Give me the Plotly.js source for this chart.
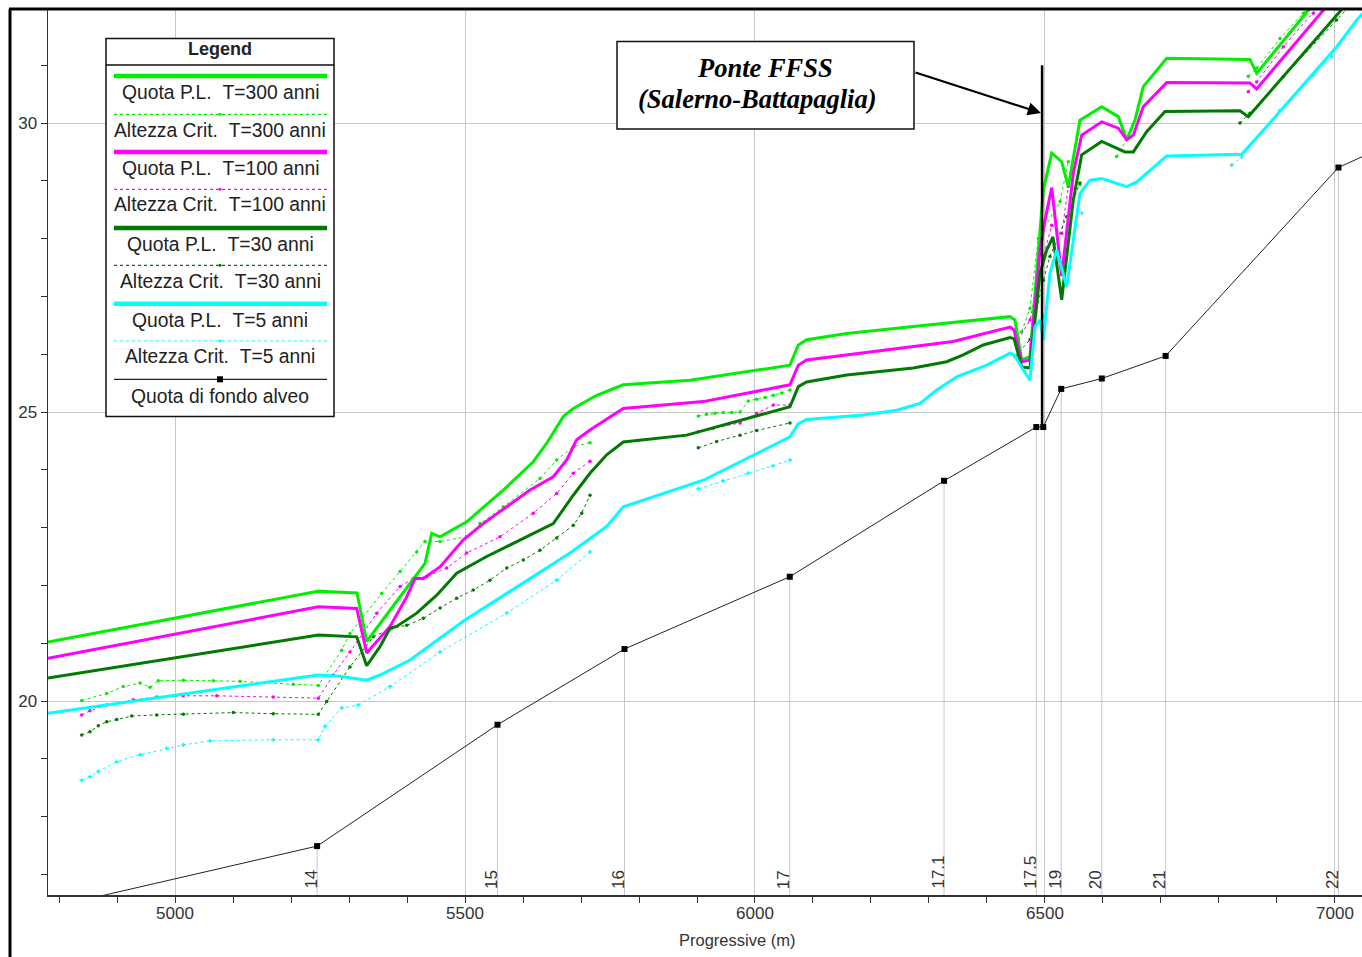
<!DOCTYPE html>
<html><head><meta charset="utf-8">
<script src="https://cdn.plot.ly/plotly-3.0.1.min.js"></script>
<style>html,body{margin:0;padding:0;background:#fff;overflow:hidden}#chart{width:1362px;height:957px;}</style>
</head><body><div id="chart"></div>
<script>
// ---------------- DATA ----------------
// Quota di fondo alveo (bed profile)
const bedX = [4700, 5245, 5556, 5775, 6060, 6326, 6485, 6497, 6528, 6598, 6708, 7006, 7100];
const bedY = [16.23, 17.49, 19.59, 20.90, 22.15, 23.81, 24.74, 24.74, 25.40, 25.58, 25.97, 29.23, 29.66];

// Sections
const sectionLabels = ['14', '15', '16', '17', '17.1', '17.5', '19', '20', '21', '22'];
const sectionX = [5245, 5556, 5775, 6060, 6326, 6485, 6528, 6598, 6708, 7006];
const sectionBed = [17.49, 19.59, 20.90, 22.15, 23.81, 24.74, 25.40, 25.58, 25.97, 29.23];

// Quota P.L. T=300 anni
const wsX300 = [4781, 5246.6, 5313.8, 5330.5, 5431.0, 5442.6, 5456.9, 5502.9, 5566.0, 5617.8, 5640.9, 5669.5, 5686.7, 5727.1, 5772.9, 5887.9, 6060.3, 6074.7, 6089.1, 6158.1, 6272.9, 6439.7, 6448.3, 6459.8, 6474.1, 6485.7, 6497.1, 6511.6, 6528.8, 6540.2, 6560.3, 6597.8, 6626.4, 6640.9, 6655.2, 6669.5, 6709.9, 6853.4, 6865.0, 6954.0, 7050];
const wsY300 = [21.02, 21.90, 21.87, 21.03, 22.38, 22.90, 22.84, 23.10, 23.65, 24.14, 24.46, 24.92, 25.06, 25.29, 25.47, 25.55, 25.81, 26.16, 26.25, 26.36, 26.48, 26.65, 26.59, 25.90, 25.96, 27.46, 28.84, 29.48, 29.33, 28.90, 30.05, 30.28, 30.11, 29.71, 30.05, 30.63, 31.12, 31.10, 30.86, 31.95, 33.12];

// Quota P.L. T=100 anni
const wsX100 = [4781, 5247.1, 5313.3, 5330.5, 5370.7, 5399.5, 5413.8, 5428.1, 5456.9, 5497.1, 5531.5, 5612.1, 5652.2, 5675.3, 5692.6, 5715.5, 5772.9, 5910.8, 6060.3, 6074.7, 6089.1, 6158.1, 6341.9, 6439.7, 6446.6, 6459.8, 6474.1, 6491.4, 6500.0, 6511.6, 6528.8, 6548.8, 6563.3, 6597.8, 6626.4, 6640.9, 6652.3, 6669.5, 6709.9, 6853.4, 6865.0, 6979.8, 7050];
const wsY100 = [20.74, 21.63, 21.60, 20.83, 21.29, 21.80, 22.12, 22.12, 22.32, 22.79, 23.07, 23.65, 23.88, 24.17, 24.52, 24.69, 25.06, 25.18, 25.47, 25.81, 25.90, 25.99, 26.22, 26.47, 26.42, 25.87, 25.90, 27.80, 28.32, 28.88, 27.35, 29.13, 29.79, 30.02, 29.91, 29.71, 29.79, 30.28, 30.70, 30.69, 30.59, 31.95, 32.80];

// Quota P.L. T=30 anni
const wsX30 = [4781, 5247.1, 5313.3, 5330.5, 5353.4, 5370.7, 5382.2, 5416.7, 5451.2, 5485.7, 5537.4, 5617.8, 5652.2, 5686.7, 5715.5, 5744.3, 5772.9, 5882.2, 6060.3, 6074.7, 6089.1, 6158.1, 6272.9, 6330.5, 6359.1, 6393.6, 6439.7, 6446.6, 6459.8, 6474.1, 6491.4, 6502.9, 6513.7, 6528.8, 6548.8, 6563.3, 6597.8, 6637.9, 6652.3, 6675.3, 6706.9, 6836.2, 6850.5, 7008.6, 7050];
const wsY30 = [20.40, 21.14, 21.11, 20.61, 20.94, 21.26, 21.29, 21.52, 21.83, 22.21, 22.50, 22.90, 23.07, 23.56, 23.94, 24.26, 24.48, 24.60, 25.09, 25.44, 25.52, 25.64, 25.76, 25.87, 25.99, 26.16, 26.29, 26.27, 25.78, 25.76, 27.40, 27.80, 28.03, 26.94, 28.67, 29.45, 29.68, 29.50, 29.50, 29.85, 30.20, 30.21, 30.11, 31.93, 32.42];

// Quota P.L. T=5 anni
const wsX5 = [4781, 5247.1, 5284.5, 5330.5, 5353.4, 5382.2, 5405.2, 5500.0, 5681.0, 5744.3, 5772.9, 5910.8, 6060.3, 6074.7, 6089.1, 6186.7, 6244.3, 6284.5, 6313.3, 6347.8, 6399.5, 6439.7, 6446.6, 6462.6, 6474.1, 6482.8, 6491.4, 6497.1, 6508.6, 6520.2, 6537.4, 6560.3, 6577.6, 6597.8, 6640.9, 6658.1, 6709.9, 6839.2, 6882.3, 7003.0, 7037.5, 7050];
const wsY5 = [19.79, 20.45, 20.43, 20.36, 20.45, 20.59, 20.71, 21.40, 22.56, 23.02, 23.36, 23.82, 24.57, 24.80, 24.87, 24.95, 25.03, 25.15, 25.38, 25.61, 25.81, 26.02, 25.99, 25.73, 25.55, 26.48, 26.59, 26.25, 27.40, 27.80, 27.17, 28.78, 29.01, 29.04, 28.90, 28.98, 29.43, 29.46, 29.94, 31.32, 31.78, 31.92];

// Altezza Crit. T=300 anni
const critX300 = [4839.1, 4882.2, 4910.9, 4939.7, 4956.9, 4971.2, 5014.3, 5066.0, 5112.1, 5204.0, 5247.1, 5287.4, 5301.7, 5356.4, 5387.9, 5416.7, 5431.0, 5456.9, 5502.9, 5525.9, 5566.0, 5629.3, 5658.1, 5686.7, 5715.5, null, 5902.2, 5916.7, 5931.0, 5945.3, 5959.8, 5974.1, 5988.4, 6002.9, 6017.2, 6031.6, 6046.0, 6060.3, null, 6459.8, 6474.1, 6488.4, 6525.9, 6540.2, null, 6560.3, null, 6623.6, 6640.9, null, 6850.5, 6865.0, 6905.2, 6945.3, 6991.3];
const critY300 = [20.01, 20.13, 20.25, 20.31, 20.24, 20.35, 20.36, 20.35, 20.34, 20.29, 20.27, 20.88, 21.17, 21.86, 22.24, 22.58, 22.76, 22.76, 22.84, 23.07, 23.36, 23.85, 24.17, 24.40, 24.47, null, 24.93, 24.96, 24.98, 24.99, 24.99, 25.00, 25.19, 25.22, 25.25, 25.29, 25.33, 25.38, null, 26.39, 26.79, 28.00, 28.64, 29.33, null, 28.93, null, 29.42, 29.71, null, 30.81, 30.95, 31.46, 31.90, 32.47];

// Altezza Crit. T=100 anni
const critX100 = [4839.1, 4853.4, 4882.2, 4928.1, 4968.4, 5014.3, 5071.9, 5169.5, 5247.1, 5272.9, 5301.7, 5347.8, 5387.9, 5410.9, 5433.9, 5468.4, 5502.9, 5560.3, 5617.8, 5658.1, 5686.7, 5715.5, null, 5902.2, 5928.1, 5974.1, 6002.9, 6031.6, 6060.3, null, 6453.9, 6474.1, 6497.1, 6511.6, 6528.8, 6540.2, null, 6850.5, 6865.0, 6910.9, 6962.6, 7008.6];
const critY100 = [19.76, 19.83, 19.93, 20.02, 20.07, 20.09, 20.09, 20.07, 20.05, 20.45, 20.85, 21.52, 21.98, 22.12, 22.15, 22.30, 22.56, 22.84, 23.25, 23.59, 23.94, 24.15, null, 24.66, 24.72, 24.81, 24.98, 25.12, 25.12, null, 26.25, 26.59, 27.69, 28.23, 28.09, 28.90, null, 30.54, 30.71, 31.32, 31.90, 32.44];

// Altezza Crit. T=30 anni
const critX30 = [4839.1, 4853.4, 4867.8, 4882.2, 4899.5, 4925.3, 4968.4, 5014.3, 5100.5, 5169.5, 5247.1, 5261.5, 5301.7, 5341.9, 5373.6, 5399.5, 5428.1, 5456.9, 5485.7, 5514.3, 5543.1, 5571.9, 5600.5, 5629.3, 5658.1, 5686.7, 5701.2, 5715.5, null, 5902.2, 5933.9, 5974.1, 6002.9, 6060.3, null, 6448.3, 6474.1, 6497.1, 6508.6, 6537.4, 6560.3, null, 6836.2, 6853.4, 6910.9, 7002.9, 7046.6];
const critY30 = [19.41, 19.47, 19.57, 19.64, 19.68, 19.74, 19.76, 19.77, 19.80, 19.78, 19.77, 19.99, 20.59, 21.11, 21.26, 21.31, 21.43, 21.61, 21.78, 21.92, 22.09, 22.30, 22.44, 22.61, 22.82, 23.04, 23.25, 23.56, null, 24.38, 24.49, 24.60, 24.68, 24.81, null, 25.96, 26.25, 27.28, 27.69, 28.38, 28.96, null, 30.00, 30.17, 30.80, 31.78, 32.27];

// Altezza Crit. T=5 anni
const critX5 = [4839.1, 4853.4, 4867.8, 4899.5, 4939.7, 4985.7, 5014.3, 5060.3, 5169.5, 5247.1, 5258.6, 5287.4, 5316.0, 5370.7, 5456.9, 5571.9, 5658.1, 5715.5, null, 5902.2, 5945.0, 5988.0, 6031.0, 6060.3, null, 6497.1, null, 6563.3, null, 6821.8, 6839.0, 6905.2, 6962.6, 6994.3];
const critY5 = [18.63, 18.69, 18.78, 18.95, 19.07, 19.18, 19.24, 19.31, 19.33, 19.33, 19.56, 19.88, 19.93, 20.25, 20.85, 21.52, 22.09, 22.58, null, 23.67, 23.81, 23.94, 24.07, 24.17, null, 26.65, null, 28.44, null, 29.27, 29.41, 30.22, 30.83, 31.15];

const legendLabels = ['Quota P.L.\u00a0\u00a0T=300 anni', 'Altezza Crit.\u00a0\u00a0T=300 anni',
  'Quota P.L.\u00a0\u00a0T=100 anni', 'Altezza Crit.\u00a0\u00a0T=100 anni',
  'Quota P.L.\u00a0\u00a0T=30 anni', 'Altezza Crit.\u00a0\u00a0T=30 anni',
  'Quota P.L.\u00a0\u00a0T=5 anni', 'Altezza Crit.\u00a0\u00a0T=5 anni', 'Quota di fondo alveo'];

const xRange = [4781, 7046.6];
const yRange = [16.644, 31.955];
const bridgeX = 6495, bridgeTop = 31.0;

// ---------------- STYLE ----------------
const C300 = '#00ee00', C100 = '#ff00ff', C30 = '#007a00', C5 = '#00ffff';
const W = 1362, H = 957, ML = 48, MR = 0, MT = 10, MB = 62;
const PW = W - ML - MR, PH = H - MT - MB;
const pxX = p => (p - ML) / PW;
const pxY = p => (H - MB - p) / PH;
const FONT = 'Arial, "Liberation Sans", sans-serif';
const SERIF = '"Liberation Serif", "Times New Roman", serif';

function solid(x, y, c) {
  return {x, y, type: 'scatter', mode: 'lines', line: {color: c, width: 3}, showlegend: false, hoverinfo: 'skip', connectgaps: false};
}
function crit(x, y, c, sym) {
  return {x, y, type: 'scatter', mode: 'lines+markers', line: {color: c, width: 1, dash: 'dot'},
    marker: {color: c, size: 3.5, symbol: sym}, showlegend: false, hoverinfo: 'skip', connectgaps: false};
}

const traces = [
  crit(critX300, critY300, C300, 'circle'),
  crit(critX100, critY100, C100, 'circle'),
  crit(critX30, critY30, C30, 'circle'),
  crit(critX5, critY5, C5, 'cross'),
  solid(wsX300, wsY300, C300),
  solid(wsX100, wsY100, C100),
  solid(wsX30, wsY30, C30),
  solid(wsX5, wsY5, C5),
  {x: bedX, y: bedY, type: 'scatter', mode: 'lines+markers', line: {color: '#222', width: 1},
   marker: {color: '#000', size: 6, symbol: 'square'}, showlegend: false, hoverinfo: 'skip'}
];

const shapes = [];
const annotations = [];

// section lines and labels
sectionX.forEach((sx, i) => {
  shapes.push({type: 'line', xref: 'x', yref: 'y', x0: sx, x1: sx, y0: yRange[0], y1: sectionBed[i],
    line: {color: '#c8c8c8', width: 1}, layer: 'below'});
  annotations.push({xref: 'x', yref: 'paper', x: sx, y: 0, xanchor: 'center', yanchor: 'bottom',
    xshift: -6, yshift: 4, textangle: -90, text: sectionLabels[i], showarrow: false,
    font: {family: FONT, size: 17, color: '#333'}});
});

// bridge line
shapes.push({type: 'line', xref: 'x', yref: 'y', x0: bridgeX, x1: bridgeX, y0: sectionBed[5], y1: bridgeTop,
  line: {color: '#000', width: 2.5}});

// outer frame (left + top)
shapes.push({type: 'line', xref: 'paper', yref: 'paper', x0: pxX(10), x1: pxX(10), y0: pxY(960), y1: pxY(9),
  line: {color: '#000', width: 3}});
shapes.push({type: 'line', xref: 'paper', yref: 'paper', x0: pxX(9), x1: pxX(1365), y0: pxY(9), y1: pxY(9),
  line: {color: '#000', width: 3}});

// legend box
shapes.push({type: 'rect', xref: 'paper', yref: 'paper', x0: pxX(106), x1: pxX(334), y0: pxY(416.5), y1: pxY(38.5),
  fillcolor: '#fff', line: {color: '#111', width: 1.5}, layer: 'above'});
shapes.push({type: 'line', xref: 'paper', yref: 'paper', x0: pxX(106), x1: pxX(334), y0: pxY(65), y1: pxY(65),
  line: {color: '#111', width: 1.5}});
annotations.push({xref: 'paper', yref: 'paper', x: pxX(220), y: pxY(49), text: '<b>Legend</b>', showarrow: false,
  xanchor: 'center', yanchor: 'middle', font: {family: FONT, size: 18, color: '#222'}});

const legLineY = [76, 114.3, 152, 189.3, 228, 265.3, 303.7, 341, 379.3];
const legTextY = [92.3, 130.7, 168.3, 205, 244, 281, 320, 356.7, 396];
const legStyles = [
  {c: C300, w: 4.5, d: 'solid'}, {c: C300, w: 1.2, d: 'dot', m: 'dot'},
  {c: C100, w: 4.5, d: 'solid'}, {c: C100, w: 1.2, d: 'dot', m: 'dot'},
  {c: C30, w: 4.5, d: 'solid'}, {c: C30, w: 1.2, d: 'dot', m: 'dot'},
  {c: C5, w: 4.5, d: 'solid'}, {c: C5, w: 1.2, d: 'dot', m: 'dot'},
  {c: '#222', w: 1.3, d: 'solid', m: 'sq'}
];
legStyles.forEach((s, i) => {
  shapes.push({type: 'line', xref: 'paper', yref: 'paper', x0: pxX(114), x1: pxX(327), y0: pxY(legLineY[i]), y1: pxY(legLineY[i]),
    line: {color: s.c, width: s.w, dash: s.d}});
  if (s.m === 'sq') {
    shapes.push({type: 'rect', xref: 'paper', yref: 'paper', x0: pxX(217), x1: pxX(223), y0: pxY(legLineY[i] + 3), y1: pxY(legLineY[i] - 3),
      fillcolor: '#000', line: {width: 0}});
  } else if (s.m === 'dot') {
    shapes.push({type: 'circle', xref: 'paper', yref: 'paper', x0: pxX(218.5), x1: pxX(221.5), y0: pxY(legLineY[i] + 1.5), y1: pxY(legLineY[i] - 1.5),
      fillcolor: s.c, line: {width: 0}});
  }
  annotations.push({xref: 'paper', yref: 'paper', x: pxX(220), y: pxY(legTextY[i]), text: legendLabels[i], showarrow: false,
    xanchor: 'center', yanchor: 'middle', font: {family: FONT, size: 19.3, color: '#222'}});
});

// Ponte FFSS annotation box
shapes.push({type: 'rect', xref: 'paper', yref: 'paper', x0: pxX(617), x1: pxX(914), y0: pxY(129), y1: pxY(41.5),
  fillcolor: '#fff', line: {color: '#111', width: 1.5}, layer: 'above'});
annotations.push({xref: 'paper', yref: 'paper', x: pxX(765), y: pxY(68), text: '<b><i>Ponte FFSS</i></b>', showarrow: false,
  xanchor: 'center', yanchor: 'middle', font: {family: SERIF, size: 26.5, color: '#000'}});
annotations.push({xref: 'paper', yref: 'paper', x: pxX(757.5), y: pxY(99), text: '<b><i>(Salerno-Battapaglia)</i></b>', showarrow: false,
  xanchor: 'center', yanchor: 'middle', font: {family: SERIF, size: 26.5, color: '#000'}});
// arrow
annotations.push({xref: 'paper', yref: 'paper', x: pxX(1041), y: pxY(113), text: '', showarrow: true,
  ax: -127, ay: -41, arrowhead: 2, arrowsize: 1.2, arrowwidth: 2.2, arrowcolor: '#000', standoff: 0});

// axis title
annotations.push({xref: 'paper', yref: 'paper', x: pxX(737), y: pxY(940), text: 'Progressive (m)', showarrow: false,
  xanchor: 'center', yanchor: 'middle', font: {family: FONT, size: 16.5, color: '#333'}});

const axisCommon = {
  showline: true, linecolor: '#333', linewidth: 1.5, ticks: 'outside', ticklen: 6, tickwidth: 1, tickcolor: '#333',
  gridcolor: '#c8c8c8', gridwidth: 1, zeroline: false, showgrid: true,
  tickfont: {family: FONT, size: 17, color: '#333'}, fixedrange: true
};

const layout = {
  width: W, height: H,
  margin: {l: ML, r: MR, t: MT, b: MB, pad: 0},
  paper_bgcolor: '#fff', plot_bgcolor: '#fff',
  showlegend: false, hovermode: false,
  xaxis: Object.assign({}, axisCommon, {range: xRange, tick0: 0, dtick: 500, ticklabelstandoff: -4,
    minor: {dtick: 100, ticks: 'outside', ticklen: 6, tickcolor: '#333', showgrid: false}}),
  yaxis: Object.assign({}, axisCommon, {range: yRange, tick0: 0, dtick: 5,
    minor: {dtick: 1, ticks: 'outside', ticklen: 6, tickcolor: '#333', showgrid: false}}),
  shapes, annotations
};

Plotly.newPlot('chart', traces, layout, {staticPlot: true, displayModeBar: false});
</script></body></html>
